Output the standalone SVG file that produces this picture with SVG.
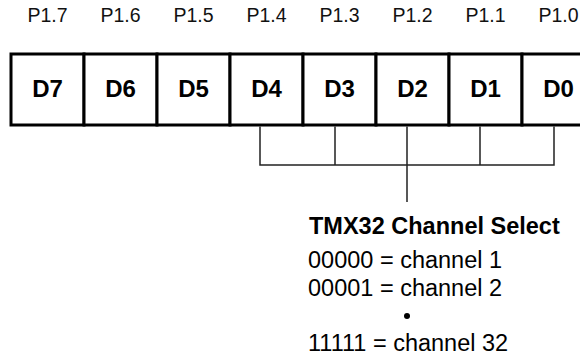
<svg xmlns="http://www.w3.org/2000/svg" width="580" height="355" viewBox="0 0 580 355">
  <style>
    .pin { font-family: "Liberation Sans", Arial, sans-serif; font-size: 19.5px; fill: #111; text-anchor: middle; }
    .bit { font-family: "Liberation Sans", Arial, sans-serif; font-size: 24px; font-weight: bold; fill: #000; text-anchor: middle; }
    .title { font-family: "Liberation Sans", Arial, sans-serif; font-size: 23.5px; font-weight: bold; fill: #000; }
    .note { font-family: "Liberation Sans", Arial, sans-serif; font-size: 23.5px; fill: #000; }
    .cell { fill: #fff; stroke: #000; stroke-width: 3; }
    .wire { fill: none; stroke: #222; stroke-width: 1.5; }
  </style>
  <rect width="580" height="355" fill="#fff"/>

  <!-- port pin labels -->
  <g id="pins">
    <text class="pin" x="47.5" y="22">P1.7</text>
    <text class="pin" x="120.5" y="22">P1.6</text>
    <text class="pin" x="193.5" y="22">P1.5</text>
    <text class="pin" x="266.5" y="22">P1.4</text>
    <text class="pin" x="339.5" y="22">P1.3</text>
    <text class="pin" x="412.5" y="22">P1.2</text>
    <text class="pin" x="485.5" y="22">P1.1</text>
    <text class="pin" x="558.5" y="22">P1.0</text>
  </g>

  <!-- register bits -->
  <g id="bit-D7"><rect class="cell" x="11" y="54" width="73" height="71"/><text class="bit" x="47.5" y="97">D7</text></g>
  <g id="bit-D6"><rect class="cell" x="84" y="54" width="73" height="71"/><text class="bit" x="120.5" y="97">D6</text></g>
  <g id="bit-D5"><rect class="cell" x="157" y="54" width="73" height="71"/><text class="bit" x="193.5" y="97">D5</text></g>
  <g id="bit-D4"><rect class="cell" x="230" y="54" width="73" height="71"/><text class="bit" x="266.5" y="97">D4</text></g>
  <g id="bit-D3"><rect class="cell" x="303" y="54" width="73" height="71"/><text class="bit" x="339.5" y="97">D3</text></g>
  <g id="bit-D2"><rect class="cell" x="376" y="54" width="73" height="71"/><text class="bit" x="412.5" y="97">D2</text></g>
  <g id="bit-D1"><rect class="cell" x="449" y="54" width="73" height="71"/><text class="bit" x="485.5" y="97">D1</text></g>
  <g id="bit-D0"><rect class="cell" x="522" y="54" width="73" height="71"/><text class="bit" x="558.5" y="97">D0</text></g>

  <!-- bracket gathering D4..D0 -->
  <g id="connectors">
    <path class="wire" d="M260 126.5 V165 H554 V126.5 M335 126.5 V165 M480 126.5 V165 M407 126.5 V202"/>
  </g>

  <!-- channel select legend -->
  <g id="legend">
    <text class="title" x="309" y="234">TMX32 Channel Select</text>
    <text class="note" x="308" y="268">00000 = channel 1</text>
    <text class="note" x="308" y="296">00001 = channel 2</text>
    <circle cx="407" cy="316" r="3" fill="#000"/>
    <text class="note" x="308" y="351">11111 = channel 32</text>
  </g>
</svg>
